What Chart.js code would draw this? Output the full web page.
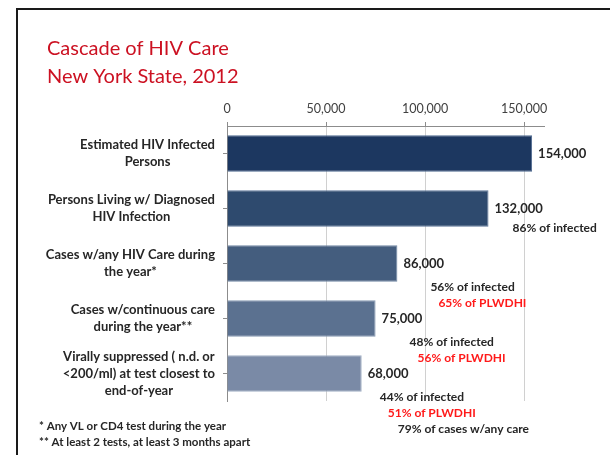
<!DOCTYPE html>
<html>
<head>
<meta charset="utf-8">
<script src="https://cdn.jsdelivr.net/npm/chart.js@4.4.1/dist/chart.umd.min.js"></script>
<style>
    html, body { margin: 0; padding: 0; background: #ffffff; }
    #cascade { display: block; }
</style>
</head>
<body>
<canvas id="cascade" width="610" height="455"></canvas>
<script>
// data
const categories = [
    ['Estimated HIV Infected', 'Persons'],
    ['Persons Living w/ Diagnosed', 'HIV Infection'],
    ['Cases w/any HIV Care during', 'the year*'],
    ['Cases w/continuous care', 'during the year**'],
    ['Virally suppressed ( n.d. or', '<200/ml) at test closest to', 'end-of-year']
];
const values = [154000, 132000, 86000, 75000, 68000];
const tickValues = [0, 50000, 100000, 150000];
const infectedPct = [null, 86, 56, 48, 44];
const plwdhiPct = [null, null, 65, 56, 51];
const anyCarePct = [null, null, null, null, 79];
const titleLines = ['Cascade of HIV Care', 'New York State, 2012'];
const footnotes = ['* Any VL or CD4 test during the year', '** At least 2 tests, at least 3 months apart'];

const barColors = ['#1c3760', '#2e4a6e', '#445d7e', '#5b7190', '#7a8aa6'];
const barEdges = ['#4f6a90', '#5d7699', '#7087a4', '#8598b2', '#a2b0c4'];
const textDark = '#262626';
const noteRed = '#ff1a1a';

// where each note line sits, relative to the bar end / bar centre
const notePlacement = [
    {},
    { infected: [24, 20] },
    { infected: [33, 24], plwdhi: [41, 40] },
    { infected: [34, 24], plwdhi: [42, 40] },
    { infected: [18, 24], plwdhi: [26, 40], anyCare: [36, 56] }
];

const fmt = v => v.toLocaleString('en-US');

// все тексты слайда рисуем поверх графика
const slideText = {
    id: 'slideText',
    afterDraw(chart) {
        const ctx = chart.ctx;
        const x = chart.scales.x;
        const y = chart.scales.y;
        ctx.save();

        // рамка слайда
        ctx.strokeStyle = '#1a1a1a';
        ctx.lineWidth = 2;
        ctx.strokeRect(17, 9, 700, 600);

        // заголовок
        ctx.fillStyle = '#cc1122';
        ctx.font = '20px Lato';
        ctx.textAlign = 'left';
        ctx.textBaseline = 'alphabetic';
        ctx.fillText(titleLines[0], 47, 55);
        ctx.fillText(titleLines[1], 47, 83);

        // подписи категорий
        ctx.fillStyle = textDark;
        ctx.font = 'bold 13px Lato';
        ctx.textBaseline = 'middle';
        ctx.textAlign = 'center';
        categories.forEach((lines, i) => {
            const cy = y.getPixelForValue(i);
            const maxW = Math.max(...lines.map(l => ctx.measureText(l).width));
            const cx = 215 - maxW / 2;
            const top = cy - (lines.length - 1) * 17 / 2;
            lines.forEach((l, j) => ctx.fillText(l, cx, top + j * 17));
        });

        // значения и проценты
        ctx.textAlign = 'left';
        values.forEach((v, i) => {
            const end = x.getPixelForValue(v);
            const cy = y.getPixelForValue(i);
            ctx.fillStyle = textDark;
            ctx.font = 'bold 13px Lato';
            ctx.fillText(fmt(v), end + 6, cy);

            const p = notePlacement[i];
            ctx.font = 'bold 12px Lato';
            if (infectedPct[i] !== null) {
                ctx.fillStyle = textDark;
                ctx.fillText(infectedPct[i] + '% of infected', end + p.infected[0], cy + p.infected[1]);
            }
            if (plwdhiPct[i] !== null) {
                ctx.fillStyle = noteRed;
                ctx.fillText(plwdhiPct[i] + '% of PLWDHI', end + p.plwdhi[0], cy + p.plwdhi[1]);
            }
            if (anyCarePct[i] !== null) {
                ctx.fillStyle = textDark;
                ctx.fillText(anyCarePct[i] + '% of cases w/any care', end + p.anyCare[0], cy + p.anyCare[1]);
            }
        });

        // сноски
        ctx.fillStyle = textDark;
        ctx.font = 'bold 11.5px Lato';
        ctx.textBaseline = 'alphabetic';
        ctx.fillText(footnotes[0], 39, 430);
        ctx.fillText(footnotes[1], 39, 445.5);

        ctx.restore();
    }
};

new Chart(document.getElementById('cascade'), {
    type: 'bar',
    data: {
        labels: categories,
        datasets: [{
            data: values,
            backgroundColor: barColors,
            borderColor: barEdges,
            borderWidth: 1,
            barPercentage: 0.66,
            categoryPercentage: 1
        }]
    },
    options: {
        responsive: false,
        animation: false,
        indexAxis: 'y',
        layout: { padding: { top: 0, left: 0, right: 66, bottom: 54 } },
        plugins: {
            legend: { display: false },
            tooltip: { enabled: false }
        },
        scales: {
            x: {
                position: 'top',
                min: 0,
                max: 160000,
                z: 1,
                afterFit: s => { s.height = 126; },
                afterBuildTicks: s => { s.ticks = tickValues.map(v => ({ value: v })); },
                ticks: {
                    color: '#404040',
                    font: { family: 'Lato', size: 12.5 },
                    padding: 6,
                    callback: v => fmt(v)
                },
                grid: {
                    color: 'rgba(150, 150, 150, 0.45)',
                    tickColor: '#8c8c8c',
                    tickLength: 4
                },
                border: { color: '#8c8c8c' }
            },
            y: {
                afterFit: s => { s.width = 227; },
                ticks: { display: false },
                grid: {
                    drawOnChartArea: false,
                    color: '#8c8c8c',
                    tickLength: 4,
                    offset: false
                },
                border: { color: '#8c8c8c' }
            }
        }
    },
    plugins: [slideText]
});
</script>
</body>
</html>
